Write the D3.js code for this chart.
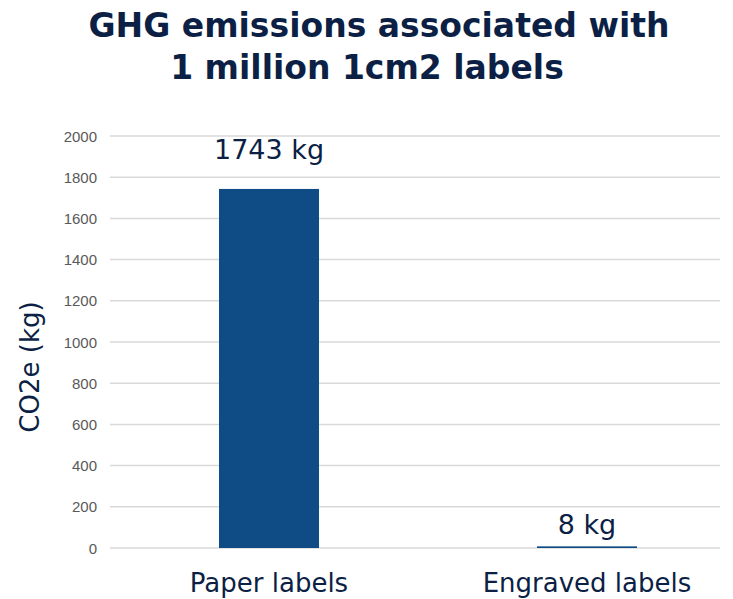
<!DOCTYPE html>
<html>
<head>
<meta charset="utf-8">
<script src="https://cdn.jsdelivr.net/npm/d3@7"></script>
<style>
  body{margin:0;background:#fff;}
  svg{display:block;font-family:"DejaVu Sans",sans-serif;}
</style>
</head>
<body>
<svg id="chart"></svg>
<script>
'use strict';
// data
const categories=['Paper labels','Engraved labels'];
const values=[1743,8];
const valueLabels=['1743 kg','8 kg'];
const yTicks=[0,200,400,600,800,1000,1200,1400,1600,1800,2000];

const W=733,H=599;
const svg=d3.select('#chart').attr('width',W).attr('height',H);

const x=d3.scaleBand().domain(categories).range([110,746]).paddingInner(0.6855).paddingOuter(0.3428);
const y=d3.scaleLinear().domain([0,2000]).range([548,136]);

// title
const title=svg.append('text').attr('text-anchor','middle').attr('fill','#0c1f45')
  .style('font-size','33px').style('font-weight',700);
title.append('tspan').attr('x',379).attr('y',37).text('GHG emissions associated with');
title.append('tspan').attr('x',367).attr('y',79).text('1 million 1cm2 labels');

// gridlines + tick labels
svg.append('g').selectAll('line').data(yTicks).join('line')
  .attr('x1',110).attr('x2',720).attr('y1',d=>y(d)).attr('y2',d=>y(d))
  .attr('stroke','#d9d9d9').attr('stroke-width',1.5);
svg.append('g').selectAll('text').data(yTicks).join('text')
  .attr('x',97).attr('y',d=>y(d)).attr('text-anchor','end').attr('dominant-baseline','central')
  .attr('fill','#595959').style('font-family','"Liberation Sans",Arial,sans-serif').style('font-size','15px').text(d=>d);

// bars
svg.append('g').selectAll('rect').data(values).join('rect')
  .attr('x',(d,i)=>x(categories[i])).attr('width',x.bandwidth())
  .attr('y',d=>y(d)).attr('height',d=>y(0)-y(d))
  .attr('fill','#0f4c86');

// value labels (the tiny bar's label sits closer to its top)
svg.append('g').selectAll('text').data(values).join('text')
  .attr('x',(d,i)=>x(categories[i])+x.bandwidth()/2).attr('y',d=>y(d)-(d<100?12:30))
  .attr('text-anchor','middle').attr('fill','#0c1f45').style('font-size','27px')
  .text((d,i)=>valueLabels[i]);

// category labels
svg.append('g').selectAll('text').data(categories).join('text')
  .attr('x',d=>x(d)+x.bandwidth()/2).attr('y',592)
  .attr('text-anchor','middle').attr('fill','#0c1f45').style('font-size','26px')
  .text(d=>d);

// y axis title
svg.append('text').attr('transform','translate(39,367) rotate(-90)')
  .attr('text-anchor','middle').attr('fill','#0c1f45').style('font-size','26px')
  .text('CO2e (kg)');
</script>
</body>
</html>
